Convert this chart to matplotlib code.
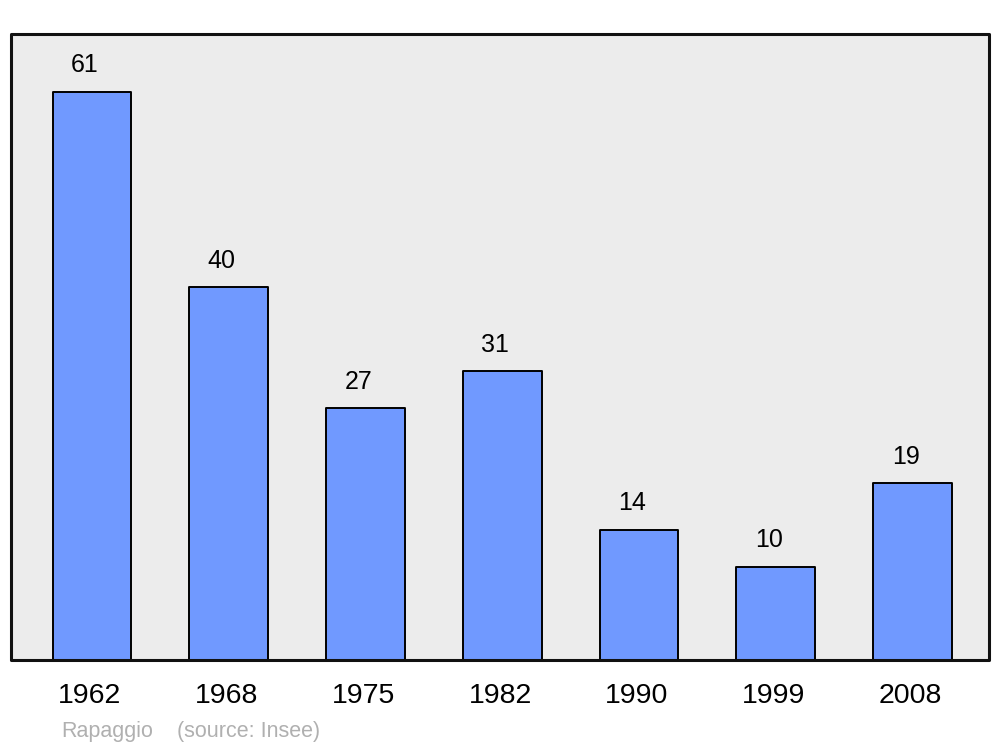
import numpy as np
import matplotlib
matplotlib.use('Agg')
import matplotlib.pyplot as plt
from matplotlib.patches import Rectangle

years  = ['1962', '1968', '1975', '1982', '1990', '1999', '2008']
values = [61, 40, 27, 31, 14, 10, 19]
source_name = 'Rapaggio'
source_note = '(source: Insee)'

plt.rcParams['font.family'] = ['Liberation Sans', 'DejaVu Sans']

fig = plt.figure(figsize=(10, 7.47), dpi=100)
ax  = fig.add_axes([0.011, 0.1165, 0.978, 0.838])
ax.set_facecolor('#ececec')

x = np.arange(len(years))
bars = ax.bar(x, values, width=0.575, color='#7099ff', edgecolor='black',
              linewidth=1.4, zorder=2)
for b in bars:
    b.set_joinstyle('round')

for xi, v in zip(x, values):
    ax.annotate(str(v), (xi, v), xytext=(-5, 14), textcoords='offset points',
                ha='center', va='baseline', fontsize=18)

ax.set_xlim(-0.592, len(years) - 1 + 0.559)
ax.set_ylim(0, 67.2)
ax.set_xticks(x - 0.015)
ax.set_xticklabels(years, fontsize=20.5)
ax.tick_params(axis='x', length=0, pad=16.5)
ax.set_yticks([])
for s in ax.spines.values():
    s.set_visible(False)

frame = Rectangle((0, 0), 1, 1, transform=ax.transAxes, fill=False,
                  edgecolor='#111111', linewidth=2.2, joinstyle='round',
                  zorder=5, clip_on=False)
ax.add_patch(frame)

fig.text(0.061, 1 - 737 / 747, source_name, color='#b0b0b0', fontsize=15.5,
         ha='left', va='baseline')
fig.text(0.177, 1 - 737 / 747, source_note, color='#b0b0b0', fontsize=15.5,
         ha='left', va='baseline')

fig.savefig('out.png', dpi=100)
